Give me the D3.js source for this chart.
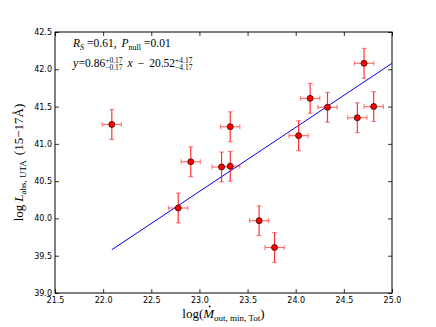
<!DOCTYPE html>
<html>
<head>
<meta charset="utf-8">
<script src="https://cdn.jsdelivr.net/npm/d3@7"></script>
<style>
  body { margin: 0; background: #fff; }
  svg { display: block; }
  .tick text { font-family: "DejaVu Sans", sans-serif; font-size: 8px; fill: #000; }
</style>
</head>
<body>
<div id="chart"></div>
<script>
// measured points: log Mdot (x) vs log L_abs (y)
const xVals = [22.09, 22.78, 22.91, 23.23, 23.32, 23.32, 23.62, 23.78, 24.03, 24.15, 24.33, 24.64, 24.71, 24.81];
const yVals = [41.26, 40.14, 40.76, 40.69, 40.70, 41.23, 39.97, 39.61, 41.11, 41.61, 41.49, 41.35, 42.08, 41.50];
const xErr = [0.10, 0.10, 0.10, 0.10, 0.10, 0.10, 0.10, 0.10, 0.10, 0.10, 0.10, 0.10, 0.10, 0.10];
const yErr = [0.20, 0.20, 0.20, 0.20, 0.20, 0.20, 0.20, 0.20, 0.20, 0.20, 0.20, 0.20, 0.20, 0.20];
const fitX = [22.09, 25.0];
const fitY = [39.58, 42.08];
const xTicks = [21.5, 22.0, 22.5, 23.0, 23.5, 24.0, 24.5, 25.0];
const yTicks = [39.0, 39.5, 40.0, 40.5, 41.0, 41.5, 42.0, 42.5];

const margin = { top: 32, right: 44, bottom: 34, left: 55 },
  width = 436 - margin.left - margin.right,
  height = 327 - margin.top - margin.bottom;

const svgRoot = d3.select("#chart").append("svg")
  .attr("width", 436).attr("height", 327);

const svg = svgRoot.append("g")
  .attr("transform", `translate(${margin.left}, ${margin.top})`);

const x = d3.scaleLinear().domain([21.5, 25.0]).range([0, width]);
const y = d3.scaleLinear().domain([39.0, 42.5]).range([height, 0]);

// axes, ticks pointing inward on all four sides
const fmt = d3.format(".1f");
svg.append("g").attr("transform", `translate(0, ${height})`)
  .call(d3.axisBottom(x).tickValues(xTicks).tickFormat(fmt).tickSizeInner(-4).tickSizeOuter(0).tickPadding(4));
svg.append("g")
  .call(d3.axisTop(x).tickValues(xTicks).tickFormat("").tickSizeInner(-4).tickSizeOuter(0));
svg.append("g")
  .call(d3.axisLeft(y).tickValues(yTicks).tickFormat(fmt).tickSizeInner(-4).tickSizeOuter(0).tickPadding(3));
svg.append("g").attr("transform", `translate(${width}, 0)`)
  .call(d3.axisRight(y).tickValues(yTicks).tickFormat("").tickSizeInner(-4).tickSizeOuter(0));
svg.selectAll(".domain").remove();
svg.selectAll(".tick line").attr("stroke", "#000").attr("stroke-width", 0.8);

svg.append("rect")
  .attr("width", width).attr("height", height)
  .attr("fill", "none").attr("stroke", "#000").attr("stroke-width", 1);

// fit line
svg.append("line")
  .attr("x1", x(fitX[0])).attr("y1", y(fitY[0]))
  .attr("x2", x(fitX[1])).attr("y2", y(fitY[1]))
  .attr("stroke", "#0000ff").attr("stroke-width", 1);

// error bars
const pts = xVals.map((d, i) => ({ x: d, y: yVals[i], ex: xErr[i], ey: yErr[i] }));
const eb = svg.append("g").selectAll("g").data(pts).join("g")
  .attr("stroke", "#ff0000").attr("stroke-width", 1.2);
eb.append("line")
  .attr("x1", (d) => x(d.x - d.ex)).attr("x2", (d) => x(d.x + d.ex))
  .attr("y1", (d) => y(d.y)).attr("y2", (d) => y(d.y))
  .attr("stroke-opacity", 0.55);
eb.append("line")
  .attr("x1", (d) => x(d.x)).attr("x2", (d) => x(d.x))
  .attr("y1", (d) => y(d.y - d.ey)).attr("y2", (d) => y(d.y + d.ey))
  .attr("stroke-opacity", 0.8);
[-1, 1].forEach((s) => {
  eb.append("line")
    .attr("x1", (d) => x(d.x + s * d.ex)).attr("x2", (d) => x(d.x + s * d.ex))
    .attr("y1", (d) => y(d.y) - 2.5).attr("y2", (d) => y(d.y) + 2.5)
    .attr("stroke-opacity", 0.45);
  eb.append("line")
    .attr("x1", (d) => x(d.x) - 2.5).attr("x2", (d) => x(d.x) + 2.5)
    .attr("y1", (d) => y(d.y + s * d.ey)).attr("y2", (d) => y(d.y + s * d.ey))
    .attr("stroke-opacity", 0.45);
});

svg.append("g").selectAll("circle").data(pts).join("circle")
  .attr("cx", (d) => x(d.x)).attr("cy", (d) => y(d.y))
  .attr("r", 3)
  .attr("fill", "#ff0000").attr("stroke", "#400000").attr("stroke-width", 0.8);

// small math-text helper: pieces laid out left to right
const serif = '"Liberation Serif", "DejaVu Serif", serif';
function mathText(parent, x0, y0, pieces) {
  const g = parent.append("g").attr("transform", `translate(${x0}, ${y0})`);
  let cx = 0;
  pieces.forEach((p) => {
    p.x = cx;
    if (p.stack) {
      const a = g.append("text").attr("x", cx).attr("y", -p.up)
        .attr("font-family", serif).attr("font-size", p.size).text(p.stack[0]);
      const b = g.append("text").attr("x", cx).attr("y", p.down)
        .attr("font-family", serif).attr("font-size", p.size).text(p.stack[1]);
      p.w = Math.max(a.node().getComputedTextLength(), b.node().getComputedTextLength());
    } else {
      const t = g.append("text").attr("x", cx).attr("y", p.dy || 0)
        .attr("font-family", serif).attr("font-size", p.size)
        .attr("font-style", p.italic ? "italic" : null)
        .text(p.t);
      p.w = t.node().getComputedTextLength();
    }
    cx += p.w + (p.gap || 0);
  });
  return { g, w: cx, pieces };
}

// annotations
mathText(svg, 18, 15, [
  { t: "R", size: 11.5, italic: true },
  { t: "S", size: 8, italic: true, dy: 2.5, gap: 3 },
  { t: "=0.61,", size: 11.5, gap: 5 },
  { t: "P", size: 11.5, italic: true },
  { t: "null", size: 8, dy: 2.5, gap: 3 },
  { t: "=0.01", size: 11.5 },
]);
mathText(svg, 18, 35, [
  { t: "y", size: 11.5, italic: true, gap: 0.5 },
  { t: "=0.86", size: 11.5 },
  { stack: ["+0.17", "\u22120.17"], size: 7.5, up: 4.5, down: 3, gap: 5 },
  { t: "x", size: 11.5, italic: true, gap: 5 },
  { t: "\u2212", size: 11.5, gap: 5 },
  { t: "20.52", size: 11.5 },
  { stack: ["+4.17", "\u22124.17"], size: 7.5, up: 4.5, down: 3 },
]);

// x axis label
const xl = mathText(svgRoot, 0, 318, [
  { t: "log(", size: 13 },
  { t: "M", size: 13, italic: true },
  { t: "out, min, Tot", size: 9, dy: 3 },
  { t: ")", size: 13 },
]);
xl.g.attr("transform", `translate(${margin.left + width / 2 - xl.w / 2}, 318)`);
// dot over M
const mPiece = xl.pieces[1];
xl.g.append("circle")
  .attr("cx", mPiece.x + mPiece.w / 2 + 1).attr("cy", -11.5).attr("r", 0.9).attr("fill", "#000");

// y axis label (rotated)
const yl = mathText(svgRoot, 0, 0, [
  { t: "log", size: 13, gap: 3 },
  { t: "L", size: 13, italic: true },
  { t: "abs, UTA", size: 9, dy: 3, gap: 5 },
  { t: "(15\u221217\u00C5)", size: 13 },
]);
yl.g.attr("transform", `translate(23, ${margin.top + height / 2 + yl.w / 2}) rotate(-90)`);
</script>
</body>
</html>
